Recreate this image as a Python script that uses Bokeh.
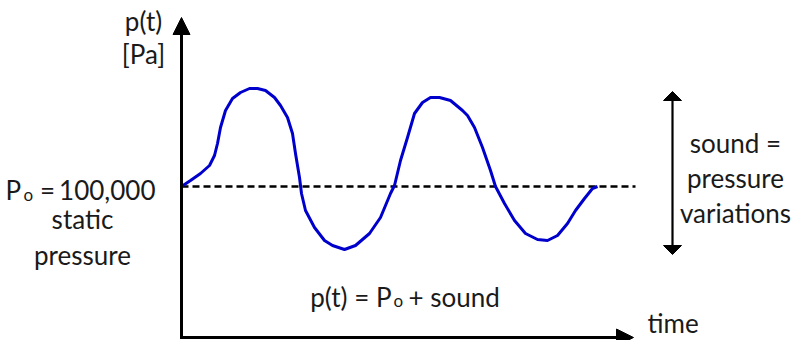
from bokeh.plotting import figure
from bokeh.models import Range1d
from bokeh.core.properties import value
from bokeh.embed import file_html
from bokeh.resources import INLINE

# ---------------- data ----------------
P0 = 100000  # static pressure [Pa]

# schematic time axis (arbitrary units) and sound pressure deviation (schematic Pa)
time = [0, 9, 19, 28, 33, 36, 39, 44, 51, 59, 68, 76, 84, 93, 99, 106, 111, 114,
        118, 120, 124, 133, 143, 151, 163, 174, 188, 199, 209, 213, 219, 226, 233,
        241, 249, 258, 269, 281, 286, 293, 301, 309, 314, 323, 333, 344, 356, 366,
        376, 386, 394, 403, 411, 416]
sound = [0, 6, 13, 21, 31, 43, 59, 76, 88, 94, 98, 98, 96, 89, 81, 69, 53, 33,
         9, -7, -24, -41, -54, -59, -63, -59, -47, -31, -7, 1, 26, 49, 73,
         84, 89, 89, 86, 76, 71, 59, 39, 16, 0, -17, -34, -47, -53, -54,
         -49, -37, -24, -12, -2, 0]
pressure = [P0 + s for s in sound]

baseline_time = [0, 454]           # static pressure reference line
time_axis_end = 452                # tip of time arrow
pressure_axis_bottom = P0 - 151
pressure_axis_top = P0 + 169
variation_top = P0 + 95            # double arrow extent
variation_bottom = P0 - 68
variation_time = 491

FONT = value("Lato")
TXT = "#1a1a1a"
FS = "26px"
FS_SUB = "17px"

p = figure(width=796, height=340, output_backend="svg", toolbar_location=None,
           x_range=Range1d(-181, 615), y_range=Range1d(P0 - 154, P0 + 186),
           x_axis_type=None, y_axis_type=None, min_border=0,
           outline_line_color=None, background_fill_color="white")
p.xgrid.visible = False
p.ygrid.visible = False

# static pressure dashed line
p.line(baseline_time, [P0, P0], line_color="black", line_width=2.5, line_dash="7 4")

# pressure curve
p.line(time, pressure, line_color="#0000cc", line_width=3, line_join="round")

# axes lines
p.line([0, 0], [pressure_axis_bottom - 1.5, pressure_axis_top - 14], line_color="black", line_width=3)
p.line([0, time_axis_end - 14], [pressure_axis_bottom, pressure_axis_bottom], line_color="black", line_width=3)
# arrowheads (triangles built from axis ends)
hw, hl = 8.5, 17
p.patches(
    xs=[[0 - hw, 0, 0 + hw],
        [time_axis_end - hl, time_axis_end, time_axis_end - hl]],
    ys=[[pressure_axis_top - hl, pressure_axis_top, pressure_axis_top - hl],
        [pressure_axis_bottom - hw, pressure_axis_bottom, pressure_axis_bottom + hw]],
    fill_color="black", line_color="black", line_width=1)

# double arrow for pressure variations
dhw, dhl = 9, 9
p.line([variation_time, variation_time], [variation_bottom + dhl, variation_top - dhl],
       line_color="black", line_width=2.2)
p.patches(
    xs=[[variation_time - dhw, variation_time, variation_time + dhw],
        [variation_time - dhw, variation_time, variation_time + dhw]],
    ys=[[variation_top - dhl, variation_top, variation_top - dhl],
        [variation_bottom + dhl, variation_bottom, variation_bottom + dhl]],
    fill_color="black", line_color="black", line_width=1)

def txt(x, y, s, align="left", size=FS):
    p.text([x], [y], text=[s], text_font=FONT, text_font_size=size, text_color=TXT,
           text_align=align, text_baseline="alphabetic")

# y axis label
txt(-38, P0 + 166, "p(t)", "center")
txt(-38, P0 + 133, "[Pa]", "center")

# static pressure label
txt(-176, P0 - 3, "P")
txt(-158, P0 - 8, "o", size=FS_SUB)
txt(-134, P0 - 3, "=", "center")
txt(-26, P0 - 3, "100,000", "right")
txt(-99, P0 - 32, "static", "center")
txt(-99, P0 - 68, "pressure", "center")

# formula
txt(210, P0 - 110, "p(t) = P", "right")
txt(212, P0 - 114, "o", size=FS_SUB)
txt(227, P0 - 110, "+ sound")

# right annotation
txt(554, P0 + 44, "sound =", "center")
txt(554, P0 + 9, "pressure", "center")
txt(554, P0 - 26, "variations", "center")

# time label
txt(466, P0 - 136, "time")

open("out.html", "w").write(file_html(p, INLINE))
